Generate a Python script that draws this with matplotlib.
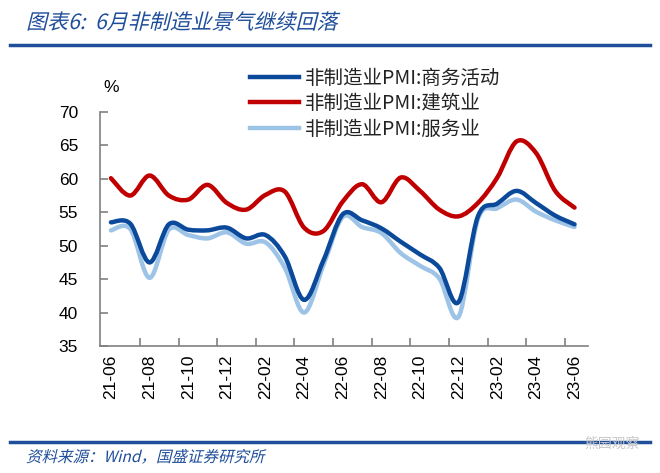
import numpy as np
import matplotlib
matplotlib.use("Agg")
import matplotlib.pyplot as plt
from matplotlib.path import Path
from matplotlib.patches import PathPatch
from matplotlib.lines import Line2D
from matplotlib.textpath import TextPath
from matplotlib.font_manager import FontProperties
from matplotlib.transforms import Affine2D

plt.rcParams['font.family'] = ['Liberation Sans', 'Noto Sans CJK SC', 'DejaVu Sans']

months = ['21-06', '21-07', '21-08', '21-09', '21-10', '21-11', '21-12',
          '22-01', '22-02', '22-03', '22-04', '22-05', '22-06', '22-07',
          '22-08', '22-09', '22-10', '22-11', '22-12', '23-01', '23-02',
          '23-03', '23-04', '23-05', '23-06']
business = [53.5, 53.3, 47.5, 53.2, 52.4, 52.3, 52.7, 51.1, 51.6, 48.4,
            41.9, 47.8, 54.7, 53.8, 52.6, 50.6, 48.7, 46.7, 41.6, 54.4,
            56.3, 58.2, 56.4, 54.5, 53.2]
construction = [60.1, 57.5, 60.5, 57.5, 56.9, 59.1, 56.4, 55.4, 57.6, 58.1,
                52.7, 52.2, 56.6, 59.2, 56.5, 60.2, 58.2, 55.4, 54.4, 56.4,
                60.2, 65.6, 63.9, 58.2, 55.7]
services = [52.3, 52.5, 45.2, 52.4, 51.6, 51.1, 52.0, 50.3, 50.5, 46.7,
            40.0, 47.1, 54.3, 52.8, 51.9, 48.9, 47.0, 45.1, 39.4, 54.0,
            55.6, 56.9, 55.1, 53.8, 52.8]

labels = ['非制造业PMI:商务活动', '非制造业PMI:建筑业', '非制造业PMI:服务业']
colors = ['#0B4A9B', '#C00000', '#9DC3E6']
cjk = ['Noto Sans CJK SC', 'DejaVu Sans']
W, H = 660, 473


def smooth_path(x, y):
    # smoothed line like the spreadsheet's, bezier segments through each point
    n = len(x)
    verts = [(x[0], y[0])]
    codes = [Path.MOVETO]
    for i in range(n - 1):
        a = max(i - 1, 0)
        b = min(i + 2, n - 1)
        c1 = (x[i] + (x[i + 1] - x[a]) / 6, y[i] + (y[i + 1] - y[a]) / 6)
        c2 = (x[i + 1] - (x[b] - x[i]) / 6, y[i + 1] - (y[b] - y[i]) / 6)
        verts += [c1, c2, (x[i + 1], y[i + 1])]
        codes += [Path.CURVE4] * 3
    return Path(verts, codes)


def slanted_text(fig, s, x, y, size, color):
    # the CJK font has no italic face, so slant the glyph outlines instead
    tp = TextPath((0, 0), s, size=size, prop=FontProperties(family='Noto Sans CJK SC'))
    tr = Affine2D().skew_deg(14, 0).translate(x, H - y)
    fig.add_artist(PathPatch(tp, transform=tr, facecolor=color, edgecolor='none'))


fig = plt.figure(figsize=(6.6, 4.73), dpi=100)
ax = fig.add_axes([0.152, 0.2685, 0.739, 0.4947])

x = np.arange(len(months))
series = [business, construction, services]
for k in [2, 0, 1]:
    p = PathPatch(smooth_path(x, np.array(series[k])), fill=False,
                  edgecolor=colors[k], lw=3.2, capstyle='round', joinstyle='round')
    ax.add_patch(p)

ax.set_xlim(-0.55, 24.7)
ax.set_ylim(35, 70)
ax.set_yticks(np.arange(35, 71, 5))
ax.set_xticks(x[::2])
ax.set_xticklabels(months[::2], rotation=90)
ax.set_xticks(np.arange(1.5, 24, 2), minor=True)
ax.tick_params(axis='x', which='major', length=0, pad=6, labelsize=12.5)
ax.tick_params(axis='x', which='minor', direction='in', length=6, color='#808080', width=1.2)
ax.tick_params(axis='y', direction='in', length=6, color='#808080', width=1.2,
               labelsize=12.5, pad=16)
for s in ['top', 'right']:
    ax.spines[s].set_visible(False)
for s in ['left', 'bottom']:
    ax.spines[s].set_color('#808080')
    ax.spines[s].set_linewidth(1.2)

fig.text(103 / W, 1 - 88 / H, '%', fontsize=12.5, ha='left', va='center')

handles = [Line2D([], [], color=c, lw=3.2) for c in colors]
fig.legend(handles, labels, loc='upper left', bbox_to_anchor=(250 / W, 1 - 68 / H),
           frameon=False, prop={'family': cjk, 'size': 14}, handlelength=2.5,
           handletextpad=0.3, labelspacing=0.22, borderpad=0, borderaxespad=0,
           labelcolor='#222222')

blue = '#1F4E9A'
slanted_text(fig, '图表6:  6月非制造业景气继续回落', 26, 29, 21, blue)
fig.add_artist(Line2D([10 / W, 650 / W], [1 - 45 / H, 1 - 45 / H],
                      color=blue, lw=2.5, transform=fig.transFigure))
fig.add_artist(Line2D([10 / W, 650 / W], [1 - 442 / H, 1 - 442 / H],
                      color=blue, lw=2.5, transform=fig.transFigure))
slanted_text(fig, '资料来源：Wind，国盛证券研究所', 26, 462, 15.5, blue)
fig.text(640 / W, 1 - 444 / H, '熊园观察', family=cjk, fontsize=10,
         color='#c8c8c8', ha='right', va='center')

fig.savefig('out.png', dpi=100)
